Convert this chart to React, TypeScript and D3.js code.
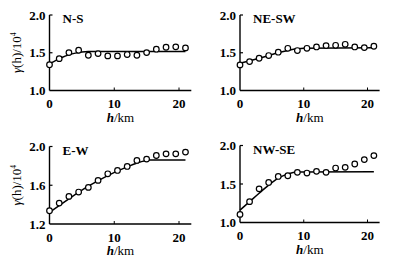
import React from 'react';
import * as d3 from 'd3';

// lag distances (km) shared by every panel
const LAGS = [0, 1.5, 3, 4.5, 6, 7.5, 9, 10.5, 12, 13.5, 15, 16.5, 18, 19.5, 21];

const NS_POINTS = [1.342, 1.422, 1.502, 1.533, 1.467, 1.489, 1.458, 1.458, 1.476, 1.467, 1.502, 1.547, 1.573, 1.578, 1.564];
const NESW_POINTS = [1.339, 1.383, 1.427, 1.463, 1.507, 1.559, 1.529, 1.559, 1.577, 1.595, 1.599, 1.612, 1.577, 1.568, 1.586];
const EW_POINTS = [1.337, 1.416, 1.485, 1.53, 1.578, 1.65, 1.718, 1.753, 1.794, 1.856, 1.87, 1.907, 1.924, 1.924, 1.942];
const NWSE_POINTS = [1.105, 1.271, 1.437, 1.52, 1.598, 1.607, 1.651, 1.642, 1.664, 1.651, 1.707, 1.716, 1.76, 1.817, 1.869];

// fitted model curves
const NS_FIT_H = [0, 1, 2, 3, 4, 5, 6, 21];
const NS_FIT = [1.355, 1.4, 1.44, 1.472, 1.495, 1.51, 1.515, 1.515];
const NESW_FIT_H = [0, 2, 4, 6, 8, 10, 21];
const NESW_FIT = [1.36, 1.405, 1.45, 1.5, 1.54, 1.56, 1.565];
const EW_FIT_H = [0, 3, 6, 9, 12, 14, 15.5, 21];
const EW_FIT = [1.32, 1.46, 1.59, 1.7, 1.79, 1.84, 1.86, 1.86];
const NWSE_FIT_H = [0, 1.5, 3, 4.5, 6, 7.5, 9, 21];
const NWSE_FIT = [1.16, 1.27, 1.38, 1.485, 1.575, 1.63, 1.655, 1.66];

const X_TICKS = [0, 10, 20];
const Y_TICKS_A = [1.0, 1.5, 2.0];
const Y_TICKS_B = [1.2, 1.6, 2.0];

const FONT = 'Liberation Serif, Times New Roman, serif';

interface PanelProps {
  label: string;
  x0: number;
  x20: number;
  yBottom: number;
  yTop: number;
  yTicks: number[];
  points: number[];
  fitH: number[];
  fit: number[];
  yTitle: boolean;
}

const Panel: React.FC<PanelProps> = ({ label, x0, x20, yBottom, yTop, yTicks, points, fitH, fit, yTitle }) => {
  const x = d3.scaleLinear().domain([0, 20]).range([x0, x20]);
  const y = d3.scaleLinear().domain([yTicks[0], yTicks[yTicks.length - 1]]).range([yBottom, yTop]);
  const line = d3
    .line<number>()
    .x((_, i) => x(fitH[i]))
    .y(d => y(d))
    .curve(d3.curveMonotoneX);
  const xEnd = x(21.9);

  return (
    <g fontFamily={FONT} fill="#000">
      {/* axes */}
      <line x1={x0} x2={xEnd} y1={yBottom} y2={yBottom} stroke="#000" strokeWidth={1.4} />
      <line x1={x0} x2={x0} y1={yBottom} y2={yTop} stroke="#000" strokeWidth={1.4} />
      {yTicks.slice(1).map(t => (
        <line key={t} x1={x0} x2={x0 + 3} y1={y(t)} y2={y(t)} stroke="#000" strokeWidth={1.2} />
      ))}
      {X_TICKS.slice(1).map(t => (
        <line key={t} x1={x(t)} x2={x(t)} y1={yBottom} y2={yBottom - 3} stroke="#000" strokeWidth={1} />
      ))}
      {yTicks.map(t => (
        <text key={t} x={x0 - 4} y={y(t)} dy="0.35em" textAnchor="end" fontSize={13} fontWeight="bold">
          {d3.format('.1f')(t)}
        </text>
      ))}
      {X_TICKS.map(t => (
        <text key={t} x={x(t)} y={yBottom + 13} dy="0.35em" textAnchor="middle" fontSize={13} fontWeight="bold">
          {t}
        </text>
      ))}
      <text x={(x0 + xEnd) / 2} y={yBottom + 31} textAnchor="middle" fontSize={13}>
        <tspan fontStyle="italic" fontWeight="bold">h</tspan>
        <tspan>/km</tspan>
      </text>
      <text x={x0 + 13} y={yTop + 8} fontSize={13} fontWeight="bold">
        {label}
      </text>
      {yTitle && (
        <text
          transform={`translate(${x0 - 29},${(yTop + yBottom) / 2}) rotate(-90)`}
          textAnchor="middle"
          fontSize={13}
        >
          <tspan fontStyle="italic">γ</tspan>
          <tspan>(h)/10</tspan>
          <tspan fontSize={7.5} dy={-5}>4</tspan>
        </text>
      )}
      {/* fitted curve */}
      <path d={line(fit) ?? ''} fill="none" stroke="#000" strokeWidth={1.5} />
      {/* experimental points */}
      {points.map((v, i) => (
        <circle key={i} cx={x(LAGS[i])} cy={y(v)} r={2.8} fill="#fff" stroke="#000" strokeWidth={1.2} />
      ))}
    </g>
  );
};

export default function App() {
  return (
    <div style={{ position: 'absolute', left: 0, top: 0 }}>
      <svg width={394} height={265} style={{ display: 'block', background: '#fff' }}>
        <Panel label="N-S" x0={49.5} x20={179} yBottom={90.5} yTop={15} yTicks={Y_TICKS_A}
          points={NS_POINTS} fitH={NS_FIT_H} fit={NS_FIT} yTitle />
        <Panel label="NE-SW" x0={240} x20={367.5} yBottom={90.5} yTop={15} yTicks={Y_TICKS_A}
          points={NESW_POINTS} fitH={NESW_FIT_H} fit={NESW_FIT} yTitle={false} />
        <Panel label="E-W" x0={49.5} x20={179} yBottom={224} yTop={146.5} yTicks={Y_TICKS_B}
          points={EW_POINTS} fitH={EW_FIT_H} fit={EW_FIT} yTitle />
        <Panel label="NW-SE" x0={240} x20={367.5} yBottom={222.5} yTop={145.5} yTicks={Y_TICKS_A}
          points={NWSE_POINTS} fitH={NWSE_FIT_H} fit={NWSE_FIT} yTitle={false} />
      </svg>
    </div>
  );
}
